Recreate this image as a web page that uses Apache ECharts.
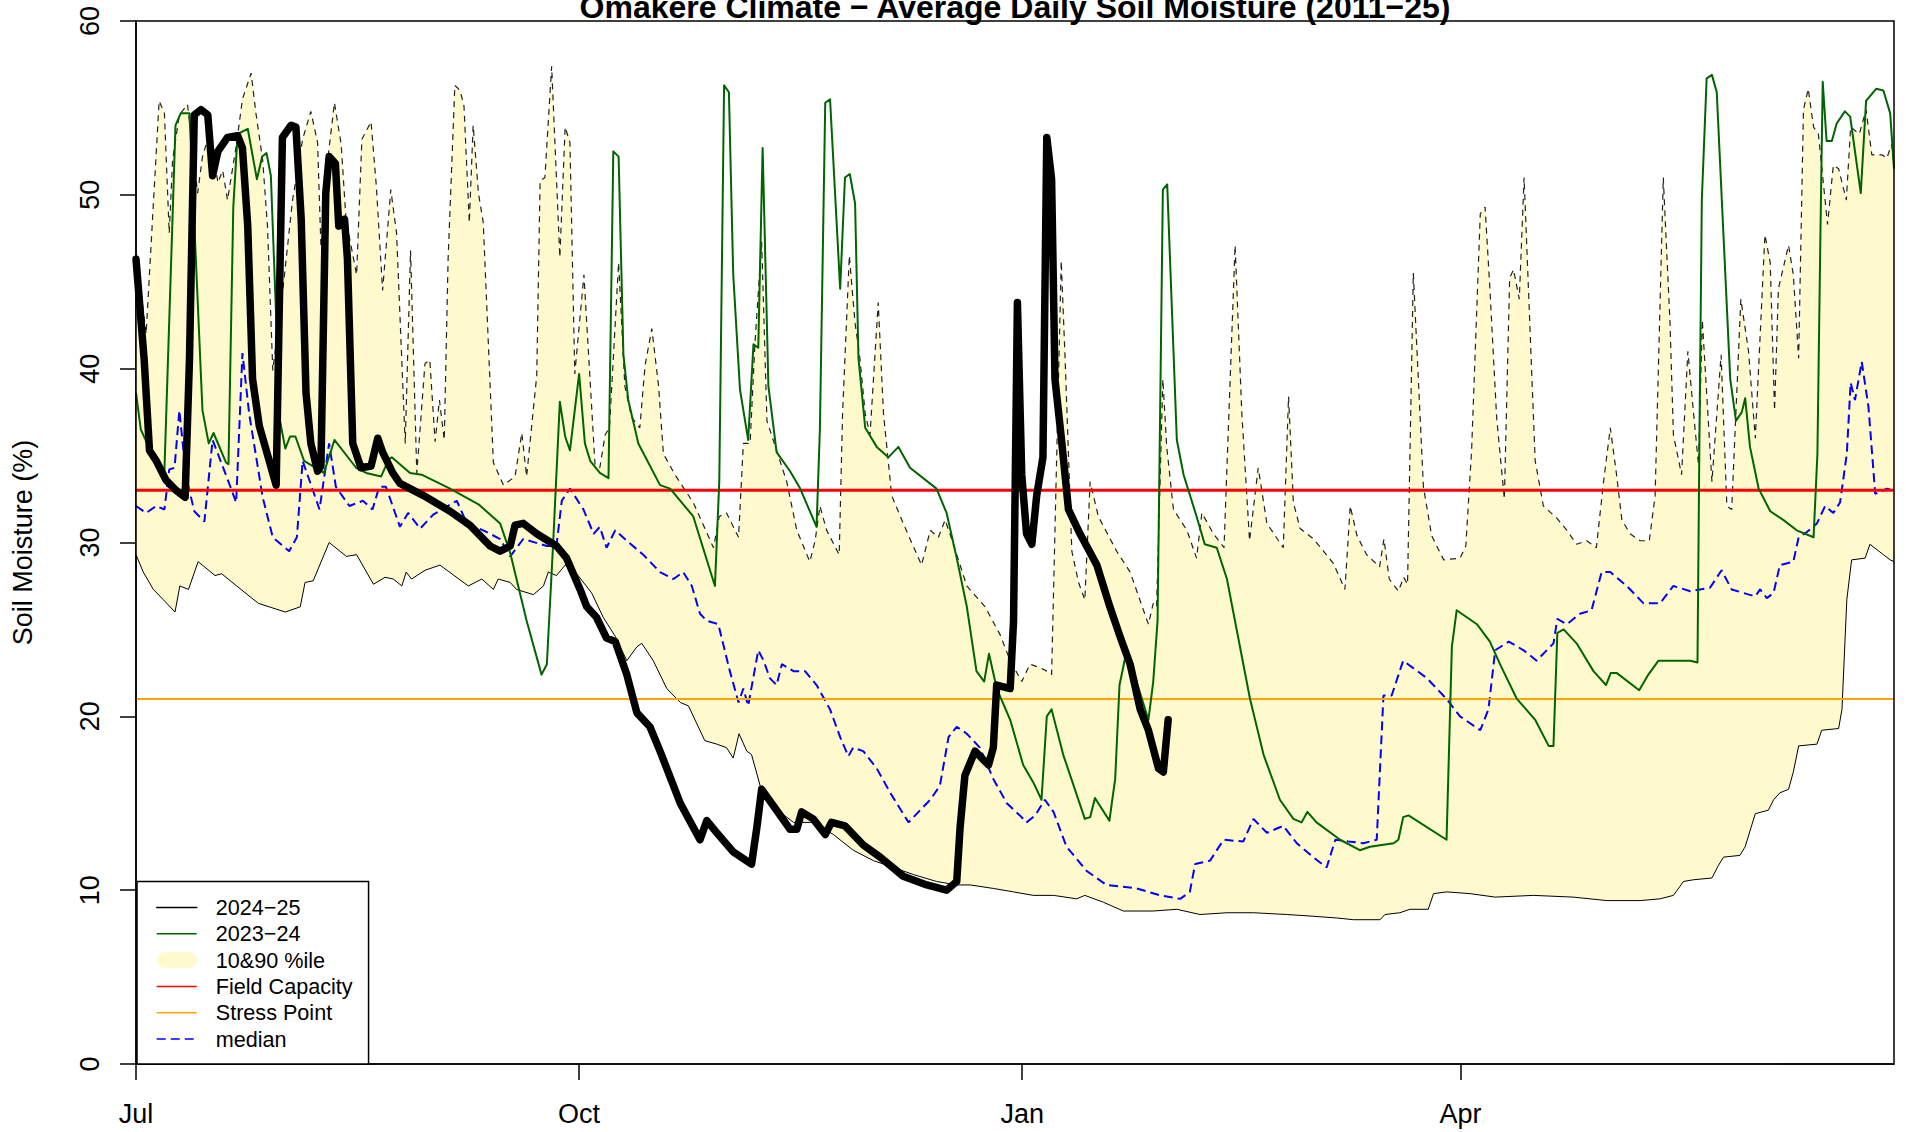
<!DOCTYPE html>
<html>
<head>
<meta charset="utf-8">
<script src="https://cdn.jsdelivr.net/npm/echarts@6/dist/echarts.min.js"></script>
<style>
html,body{margin:0;padding:0;background:#fff;}
#chart{width:1906px;height:1132px;}
</style>
</head>
<body>
<div id="chart"></div>
<script>
// x = day of season (0 = 1 Jul), y = soil moisture (%)
const tickDays = [0, 92, 184, 275];
const tickLabels = ['Jul', 'Oct', 'Jan', 'Apr'];
const fieldCapacity = 33;
const stressPoint = 21;

const season2425 = [[0,46.3],[1.7,40.5],[2.8,35.3],[4.2,34.7],[6.2,33.6],[8.3,33.0],[10.2,32.6],[11.1,40.5],[12.1,54.6],[13.5,54.9],[14.9,54.6],[15.9,51.1],[17.0,52.5],[19.0,53.3],[21.1,53.4],[22.1,52.7],[23.2,48.2],[24.2,39.4],[25.6,36.7],[29.1,33.3],[29.8,44.3],[30.4,53.3],[32.2,54.0],[33.2,53.9],[34.3,48.6],[35.3,38.6],[36.3,35.7],[37.7,34.1],[38.4,34.4],[39.4,50.1],[40.1,52.2],[41.4,51.8],[42.1,48.2],[43.3,48.6],[43.9,46.3],[45.0,35.7],[46.7,34.3],[48.8,34.4],[50.2,36.0],[51.2,35.2],[53.3,34.0],[54.8,33.4],[57.6,33.0],[59.7,32.7],[65.2,31.8],[69.3,31.0],[73.5,29.8],[75.6,29.5],[77.7,29.8],[78.7,31.0],[80.4,31.1],[83.2,30.5],[87.3,29.8],[89.4,29.1],[92.2,27.3],[93.6,26.3],[95.6,25.7],[97.7,24.5],[99.5,24.3],[101.9,22.4],[104.0,20.2],[106.7,19.4],[108.8,18.0],[113.0,15.0],[117.1,12.9],[118.5,14.0],[120.6,13.3],[124.0,12.2],[127.8,11.5],[128.9,13.6],[129.9,15.8],[133.0,14.6],[135.8,13.5],[137.2,13.5],[138.2,14.5],[140.6,14.1],[143.1,13.2],[144.4,13.9],[147.2,13.7],[151.0,12.6],[154.5,11.9],[159.3,10.8],[164.2,10.3],[168.3,10.0],[170.4,10.5],[171.1,13.6],[172.1,16.6],[174.2,18.0],[177.0,17.2],[178.0,18.2],[178.7,21.8],[181.5,21.6],[182.2,25.5],[183.0,43.8],[183.9,33.9],[184.9,30.5],[186.0,29.9],[187.0,32.7],[188.3,34.9],[189.1,53.3],[190.1,50.9],[190.8,39.4],[192.2,35.8],[193.6,31.9],[196.0,30.5],[199.5,28.7],[202.2,26.3],[204.3,24.6],[206.4,23.0],[208.5,20.4],[210.2,19.2],[212.3,17.0],[213.3,16.8],[214.3,19.8]];

const season2324 = [[0,38.6],[1.0,36.5],[2.8,35.4],[5.9,34.1],[8.2,54.0],[9.3,54.7],[11.1,54.7],[13.8,37.6],[15.1,35.7],[16.1,36.3],[18.7,34.6],[19.2,34.5],[20.2,49.3],[21.1,53.5],[23.2,53.8],[25.1,50.9],[26.2,52.2],[27.1,52.4],[28.0,51.1],[29.9,37.0],[31.0,35.4],[32.0,36.1],[33.1,36.1],[34.9,34.7],[39.0,34.0],[41.2,35.9],[45.7,34.3],[47.8,34.0],[50.9,33.8],[52.5,34.8],[53.1,34.9],[56.9,34.0],[59.3,33.9],[65.2,33.1],[71.1,32.2],[75.6,31.1],[77.7,29.4],[81.1,25.5],[84.2,22.4],[85.3,23.0],[86.6,29.9],[88.0,38.1],[89.1,36.1],[90.1,35.3],[92.0,39.7],[93.2,35.7],[94.3,34.7],[96.3,34.0],[98.1,33.7],[99.1,52.5],[100.2,52.2],[101.2,40.8],[102.2,38.2],[104.3,35.7],[108.8,33.3],[110.9,33.1],[115.7,31.5],[120.2,27.5],[121.1,33.5],[122.1,56.3],[123.1,55.9],[124.0,45.4],[125.4,38.8],[127.1,35.9],[128.2,41.4],[129.2,41.2],[130.1,52.7],[131.3,39.0],[133.0,35.2],[135.8,34.1],[137.9,33.1],[141.3,30.9],[142.0,36.6],[143.1,55.3],[144.1,55.5],[146.2,44.6],[147.2,51.0],[148.2,51.2],[149.3,49.5],[150.0,40.6],[151.4,36.6],[153.8,35.5],[156.2,34.9],[158.3,35.5],[160.7,34.3],[166.2,33.1],[168.3,31.7],[170.4,29.1],[172.5,26.3],[174.5,22.6],[176.1,22.0],[177.1,23.6],[178.7,21.6],[181.5,19.8],[184.2,17.2],[186.3,16.2],[188.0,15.2],[189.1,20.0],[190.1,20.4],[192.5,17.8],[197.0,14.1],[198.1,14.2],[199.1,15.3],[202.1,14.0],[203.3,16.4],[204.2,21.8],[205.7,23.8],[210.2,19.8],[211.2,22.0],[212.1,25.5],[213.2,50.3],[214.1,50.6],[216.1,35.9],[217.5,33.9],[220.2,31.5],[221.9,29.9],[224.4,29.7],[226.5,27.9],[231.3,21.0],[234.1,17.8],[237.5,15.2],[240.3,14.1],[242.0,13.9],[243.2,14.5],[245.1,13.9],[250.0,12.9],[254.1,12.3],[256.2,12.5],[261.1,12.7],[262.1,12.9],[263.1,14.2],[264.2,14.3],[272.1,12.9],[273.2,24.0],[274.2,26.1],[278.4,25.3],[281.1,24.3],[283.2,23.0],[286.7,21.0],[290.5,19.8],[293.3,18.3],[294.3,18.3],[295.1,24.8],[296.4,25.0],[299.1,24.2],[302.6,22.6],[305.2,21.8],[306.2,22.5],[307.4,22.5],[312.1,21.5],[314.0,22.4],[316.1,23.2],[319.2,23.2],[322.7,23.2],[324.2,23.1],[324.6,35.9],[325.1,49.7],[326.1,56.7],[327.2,56.9],[328.2,55.9],[331.0,39.4],[332.2,37.0],[333.4,37.5],[334.1,38.3],[335.1,35.5],[336.9,33.1],[339.3,31.8],[342.0,31.3],[344.8,30.7],[348.3,30.3],[349.1,35.1],[349.7,47.3],[350.2,56.5],[351.0,53.1],[352.1,53.1],[353.1,54.1],[354.8,54.8],[355.9,54.5],[358.1,50.1],[359.2,55.4],[361.3,56.1],[362.8,56.0],[364.2,54.7],[365,51.5]];

const pct90 = [[0,46.8],[2.1,42.0],[4.8,55.4],[5.9,54.7],[6.9,47.8],[7.6,52.0],[9.0,54.6],[10.7,55.2],[12.8,50.1],[13.8,52.2],[15.4,53.7],[17.0,50.7],[18.0,51.4],[19.0,49.7],[20.8,52.8],[22.1,55.5],[23.9,57.0],[24.9,54.7],[26.3,52.0],[27.3,48.2],[28.4,39.9],[30.4,44.3],[32.5,49.7],[34.6,53.2],[36.3,54.8],[37.7,53.0],[38.4,47.0],[39.8,52.0],[41.2,55.3],[42.6,52.9],[43.6,48.6],[45.8,45.4],[46.9,53.2],[48.8,54.2],[49.9,50.5],[51.2,44.5],[52.9,50.3],[54.1,47.8],[55.9,35.7],[57.0,46.8],[58.3,34.0],[60.0,40.3],[61.0,40.5],[62.1,35.8],[63.0,38.2],[64.0,35.9],[64.8,46.3],[66.2,56.3],[67.3,56.0],[68.1,55.1],[69.2,48.4],[70.0,54.0],[71.1,50.1],[72.1,48.4],[74.2,34.6],[76.3,33.3],[78.7,33.8],[80.1,36.3],[81.1,33.8],[83.2,39.6],[83.9,50.8],[84.9,51.0],[86.3,57.4],[88.0,46.4],[89.1,53.9],[90.1,53.0],[91.1,39.7],[93.0,45.4],[95.3,34.5],[96.3,34.3],[97.4,36.2],[98.3,36.6],[100.2,46.1],[101.5,39.0],[102.9,37.2],[104.6,36.6],[105.7,40.2],[107.1,42.3],[108.5,39.0],[109.5,35.1],[111.9,33.9],[115.7,32.3],[119.9,29.7],[121.1,31.5],[122.6,31.7],[125.1,30.3],[126.1,35.7],[127.5,35.7],[128.5,41.4],[129.9,47.3],[131.0,37.0],[132.3,35.9],[135.1,33.5],[137.2,30.7],[139.9,28.9],[141.0,30.1],[142.0,32.1],[143.4,30.7],[146.0,29.3],[146.7,37.4],[148.1,46.5],[149.3,42.6],[150.3,40.6],[151.4,37.4],[152.4,36.2],[154.1,43.8],[155.2,37.4],[156.9,32.7],[159.3,31.1],[163.1,28.7],[164.9,30.7],[166.6,30.3],[168.0,31.3],[169.7,29.9],[172.5,27.5],[176.3,26.3],[179.4,24.7],[181.5,23.2],[183.9,22.0],[185.6,23.0],[187.7,22.8],[189.1,22.6],[190.1,22.4],[192.1,46.2],[192.9,40.6],[194.3,29.5],[195.7,27.7],[197.0,26.7],[198.1,33.5],[199.8,31.5],[203.6,29.5],[206.4,28.3],[210.2,25.3],[211.2,26.5],[211.9,26.3],[213.2,39.4],[214.0,35.5],[215.4,31.9],[218.2,30.7],[220.2,29.1],[221.3,31.7],[223.7,30.5],[225.9,29.7],[226.8,36.6],[228.2,47.1],[229.6,37.4],[231.2,30.1],[233.0,34.3],[234.8,31.1],[238.2,29.7],[239.3,38.4],[240.3,32.3],[241.7,30.8],[244.5,30.2],[248.6,28.8],[251.0,27.3],[252.1,32.1],[253.5,30.4],[255.5,29.3],[258.2,28.6],[259.1,30.2],[260.2,27.9],[262.1,27.2],[263.2,28.0],[264.0,27.6],[265.2,45.5],[267.3,33.2],[269.0,30.4],[271.5,29.0],[274.9,29.1],[276.1,29.8],[277.3,35.3],[279.1,48.9],[280.1,49.3],[281.1,44.6],[282.5,37.2],[284.1,32.5],[285.2,45.2],[286.0,45.7],[287.2,44.0],[288.2,51.0],[289.1,44.6],[290.5,34.7],[292.2,32.1],[295.0,31.4],[297.1,30.7],[299.1,29.9],[301.2,30.1],[303.2,29.7],[304.7,33.5],[306.1,36.6],[307.4,33.9],[308.5,31.3],[310.2,30.5],[312.3,30.1],[314.2,30.1],[315.4,32.7],[317.1,51.0],[318.5,42.6],[319.2,36.2],[320.9,33.9],[322.2,41.0],[323.4,37.4],[324.4,34.5],[325.2,42.8],[327.2,33.5],[329.1,40.8],[330.3,32.1],[331.3,31.9],[333.2,44.0],[334.8,41.0],[336.2,36.0],[338.2,47.7],[339.3,46.1],[340.2,37.6],[341.0,44.6],[343.1,47.1],[344.1,45.4],[345.2,40.6],[346.2,54.9],[347.2,56.1],[348.3,53.9],[349.3,53.5],[351.2,48.3],[352.4,51.7],[353.5,51.5],[355.1,49.7],[356.0,53.9],[357.8,53.5],[359.2,54.9],[360.4,52.3],[362.5,52.3],[363.5,52.1],[364.5,52.9],[365,51.7]];

const pct10 = [[0,29.3],[1.5,28.3],[3.6,27.3],[5.7,26.7],[8.1,26.0],[9.1,27.5],[10.9,27.3],[12.9,28.9],[16.4,28.1],[17.8,28.2],[20.9,27.5],[25.4,26.5],[31.0,26.0],[34.1,26.3],[35.1,27.7],[36.8,27.8],[40.1,30.0],[43.7,29.2],[45.8,29.3],[49.3,27.6],[51.7,28.0],[53.4,27.9],[55.2,27.5],[56.1,28.3],[57.2,27.9],[60.0,28.4],[63.1,28.7],[69.0,27.5],[71.8,27.9],[74.2,27.3],[75.2,27.9],[77.7,27.7],[79.0,27.3],[82.5,27.0],[84.6,27.5],[85.6,28.3],[87.3,28.1],[89.1,28.7],[91.5,28.2],[94.6,27.1],[97.0,25.7],[99.5,24.6],[101.9,23.2],[104.0,24.0],[105.0,24.2],[107.4,23.2],[110.2,21.6],[113.0,20.8],[114.7,20.6],[118.1,18.6],[120.6,18.4],[122.6,18.2],[124.0,17.6],[125.2,19.0],[126.8,18.0],[127.8,17.8],[129.6,16.0],[132.3,14.8],[136.5,13.9],[140.6,13.9],[144.8,13.2],[148.9,12.3],[153.1,11.7],[157.3,11.3],[161.4,10.9],[166.2,10.5],[170.4,10.3],[173.2,10.3],[178.0,10.1],[182.2,9.9],[186.3,9.7],[190.5,9.7],[195.3,9.5],[197.0,9.7],[200.9,9.3],[205.0,8.8],[211.2,8.8],[216.1,8.9],[220.9,8.6],[226.5,8.7],[232.0,8.7],[238.9,8.6],[244.4,8.5],[249.3,8.4],[252.8,8.3],[258.3,8.3],[259.3,8.6],[262.4,8.7],[264.5,8.9],[268.3,8.9],[269.4,9.8],[272.1,9.9],[277.0,9.8],[282.2,9.6],[290.1,9.7],[298.4,9.6],[305.4,9.4],[312.3,9.4],[316.4,9.5],[319.2,9.7],[321.3,10.5],[323.4,10.6],[327.2,10.7],[328.5,11.4],[329.6,11.9],[333.0,12.0],[334.1,12.5],[336.2,14.4],[338.9,14.6],[340.0,15.2],[341.3,15.6],[343.1,15.8],[344.1,16.8],[345.2,18.3],[349.0,18.4],[350.0,19.2],[353.5,19.3],[354.2,20.4],[355.2,26.7],[356.2,29.0],[359.0,29.1],[360.0,29.9],[362.8,29.3],[364.2,29.0],[365,28.9]];

const median = [[0,32.1],[2.1,31.7],[4.2,32.1],[5.9,31.9],[6.9,34.2],[8.0,34.3],[9.0,37.6],[10.4,33.8],[12.1,31.8],[14.2,31.2],[15.9,35.9],[19.2,33.5],[20.8,32.3],[22.1,40.9],[23.5,37.4],[26.3,32.6],[28.4,30.3],[31.8,29.5],[33.4,30.3],[34.6,34.7],[38.1,31.9],[40.1,35.7],[41.5,33.2],[44.3,32.1],[47.1,32.4],[49.1,31.9],[50.5,33.2],[51.9,33.2],[54.8,30.9],[56.5,31.7],[59.0,30.8],[61.7,31.6],[66.6,32.4],[68.7,31.1],[72.1,30.7],[75.6,30.2],[77.7,29.2],[80.4,30.2],[85.3,29.8],[87.3,29.8],[88.4,32.4],[90.1,33.1],[92.9,31.9],[95.0,30.5],[96.3,30.9],[97.7,29.7],[99.5,30.7],[101.9,30.1],[105.3,29.3],[108.8,28.3],[111.6,27.9],[113.6,28.3],[115.4,27.5],[117.1,25.9],[118.5,25.5],[120.9,25.3],[123.3,22.6],[125.1,20.8],[126.1,21.6],[127.1,20.6],[129.2,23.8],[130.3,23.2],[131.6,22.2],[133.0,21.8],[134.1,23.0],[136.5,22.6],[138.9,22.6],[141.3,21.8],[144.1,20.4],[146.2,18.8],[147.9,17.7],[148.9,18.2],[151.0,18.0],[153.8,17.0],[156.6,15.6],[160.4,13.9],[162.8,14.6],[164.9,15.2],[166.9,16.0],[168.7,18.8],[170.4,19.4],[172.5,19.0],[175.2,18.2],[178.0,16.4],[180.8,15.0],[183.5,14.3],[184.9,13.9],[186.7,14.3],[188.7,15.2],[190.5,14.5],[193.2,12.5],[197.4,11.1],[201.5,10.3],[207.8,10.1],[212.6,9.7],[216.8,9.5],[218.8,9.9],[219.9,11.5],[223.0,11.7],[225.8,12.9],[229.9,12.8],[232.0,14.1],[234.8,13.3],[238.2,13.7],[241.0,12.7],[244.4,11.9],[247.2,11.3],[249.0,12.9],[251.7,12.8],[254.8,12.7],[257.6,12.9],[259.0,21.2],[260.7,21.2],[263.1,23.2],[268.0,22.2],[272.1,21.0],[274.9,20.0],[279.1,19.2],[280.8,20.4],[282.2,23.8],[285.0,24.3],[288.1,23.8],[290.8,23.2],[294.3,24.2],[295.1,25.6],[297.1,25.3],[299.8,25.9],[302.2,26.1],[304.3,28.3],[306.1,28.3],[309.5,27.5],[313.0,26.5],[316.4,26.5],[319.2,27.5],[322.7,27.2],[324.7,27.3],[326.8,27.4],[329.2,28.4],[331.3,27.3],[333.7,27.1],[336.2,26.9],[337.2,27.3],[338.6,26.8],[340.0,27.1],[341.3,28.7],[344.1,28.9],[345.2,30.3],[346.9,30.6],[349.0,31.1],[350.7,32.1],[352.4,31.7],[353.8,32.3],[355.2,35.1],[356.0,39.2],[356.9,38.2],[358.3,40.4],[359.7,37.8],[361.1,32.8],[362.1,32.9],[363.5,33.1],[365,33.0]];

const X_MAX = 365;
const FONT = 'Liberation Sans, Arial, Helvetica, sans-serif';
const bandColor = '#FFFACD';

const chart = echarts.init(document.getElementById('chart'), null, {renderer: 'svg'});

const lineBase = {type: 'line', symbol: 'none', silent: true, animation: false};
const noMarker = {opacity: 0};

const option = {
  animation: false,
  textStyle: {fontFamily: FONT, color: '#000'},
  title: {
    text: 'Omakere Climate \u2212 Average Daily Soil Moisture (2011\u221225)',
    left: 1015, textAlign: 'center', top: -9, padding: 0,
    textStyle: {fontFamily: FONT, fontSize: 32, fontWeight: 'bold', color: '#000'}
  },
  grid: {left: 136, right: 12, top: 21, bottom: 68, show: true, borderColor: '#000', borderWidth: 1.5, backgroundColor: 'transparent', z: 5},
  xAxis: {
    type: 'value', min: 0, max: X_MAX,
    axisLine: {show: true, lineStyle: {color: '#000', width: 1.5}},
    axisTick: {show: true, length: 16, customValues: tickDays, lineStyle: {color: '#000', width: 1.5}},
    axisLabel: {show: true, customValues: tickDays, margin: 36, fontSize: 27, color: '#000', fontFamily: FONT,
      formatter: v => tickLabels[tickDays.indexOf(Math.round(v))] || ''},
    splitLine: {show: false}
  },
  yAxis: {
    type: 'value', min: 0, max: 60, interval: 10,
    name: 'Soil Moisture (%)', nameLocation: 'middle', nameGap: 100,
    nameTextStyle: {fontSize: 27, color: '#000', fontFamily: FONT},
    axisLine: {show: true, lineStyle: {color: '#000', width: 1.5}},
    axisTick: {show: true, length: 16, lineStyle: {color: '#000', width: 1.5}},
    axisLabel: {rotate: 90, margin: 33, fontSize: 27, color: '#000', fontFamily: FONT},
    splitLine: {show: false}
  },
  legend: {
    orient: 'vertical', left: 137, bottom: 68,
    itemWidth: 40, itemHeight: 16, itemGap: 4.3,
    padding: [15, 16, 14, 19],
    borderColor: '#000', borderWidth: 1.5, backgroundColor: '#fff',
    selectedMode: false, z: 10,
    textStyle: {fontSize: 21.6, color: '#000', fontFamily: FONT, lineHeight: 22, padding: [0, 0, 0, 14]},
    data: [
      {name: '2024\u221225', lineStyle: {width: 1.5}, itemStyle: noMarker},
      {name: '2023\u221224', lineStyle: {width: 1.5}, itemStyle: noMarker},
      {name: '10&90 %ile', icon: 'path://M8,0H32A8,8,0,0,1,32,16H8A8,8,0,0,1,8,0Z', itemStyle: {color: bandColor, opacity: 1}},
      {name: 'Field Capacity', lineStyle: {width: 1.5}, itemStyle: noMarker},
      {name: 'Stress Point', lineStyle: {width: 1.5}, itemStyle: noMarker},
      {name: 'median', lineStyle: {width: 1.5}, itemStyle: noMarker}
    ]
  },
  series: [
    {
      name: '10&90 %ile', type: 'custom', coordinateSystem: 'cartesian2d', silent: true, animation: false,
      itemStyle: {color: bandColor},
      encode: {x: 0, y: 1},
      data: [[0, 0]],
      renderItem: function (params, api) {
        if (params.dataIndex !== 0) return null;
        const pts = [];
        pct90.forEach(p => pts.push(api.coord(p)));
        for (let i = pct10.length - 1; i >= 0; i--) pts.push(api.coord(pct10[i]));
        return {type: 'polygon', shape: {points: pts}, style: {fill: bandColor, stroke: null}};
      },
      z: 1
    },
    Object.assign({}, lineBase, {name: 'p10', data: pct10, lineStyle: {color: '#000', width: 1}, z: 2}),
    Object.assign({}, lineBase, {name: 'p90', data: pct90, lineStyle: {color: '#222', width: 1.2, type: [6, 5]}, z: 2}),
    Object.assign({}, lineBase, {name: 'median', data: median, itemStyle: {color: '#0000FF'}, lineStyle: {color: '#0000FF', width: 2, type: [9, 5]}, z: 3}),
    Object.assign({}, lineBase, {name: 'Field Capacity', data: [[0, fieldCapacity], [X_MAX, fieldCapacity]], itemStyle: {color: '#FF0000'}, lineStyle: {color: '#FF0000', width: 3}, z: 3}),
    Object.assign({}, lineBase, {name: 'Stress Point', data: [[0, stressPoint], [X_MAX, stressPoint]], itemStyle: {color: '#FFA500'}, lineStyle: {color: '#FFA500', width: 2}, z: 3}),
    Object.assign({}, lineBase, {name: '2023\u221224', data: season2324, itemStyle: {color: '#006400'}, lineStyle: {color: '#006400', width: 2, join: 'round'}, z: 4}),
    Object.assign({}, lineBase, {name: '2024\u221225', data: season2425, itemStyle: {color: '#000'}, lineStyle: {color: '#000', width: 7.5, cap: 'round', join: 'round'}, z: 4})
  ]
};
chart.setOption(option);
</script>
</body>
</html>
